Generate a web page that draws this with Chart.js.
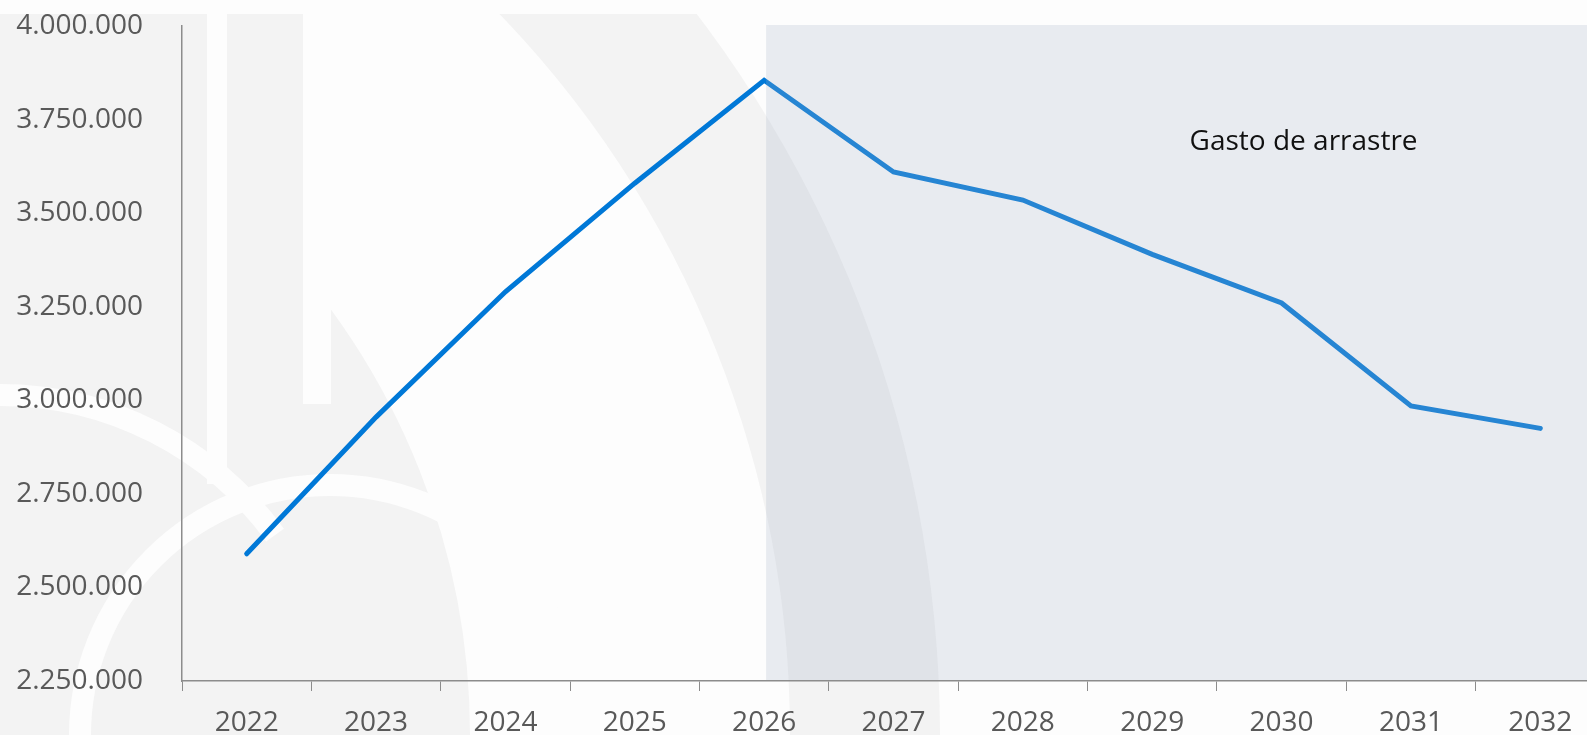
<!DOCTYPE html>
<html lang="es">
<head>
<meta charset="utf-8">
<title>Gasto de arrastre</title>
<script src="https://cdn.jsdelivr.net/npm/chart.js@4/dist/chart.umd.min.js"></script>
<style>
  html, body { margin: 0; padding: 0; overflow: hidden; background: #fdfdfd; }
  #wrap { position: relative; width: 1605px; height: 735px; }
</style>
</head>
<body>
<div id="wrap"><canvas id="gastoChart"></canvas></div>
<script>
const years = ['2022', '2023', '2024', '2025', '2026', '2027', '2028', '2029', '2030', '2031', '2032'];
const gasto = [2590000, 2955000, 3290000, 3580000, 3855000, 3610000, 3535000, 3390000, 3260000, 2985000, 2925000];
const yMin = 2250000;
const yMax = 4000000;
const yStep = 250000;
const shadeFrom = '2026';
const noteText = 'Gasto de arrastre';
const notePos = [8.17, 3690000];

const fmt = (v) => String(v).replace(/\B(?=(\d{3})+(?!\d))/g, '.');

// faint logo drawn behind everything
const watermark = {
    id: 'watermark',
    beforeDraw(chart) {
        const ctx = chart.ctx;
        const gray = '#f3f3f3';
        const white = '#fdfdfd';
        const h = chart.height;
        ctx.save();
        ctx.fillStyle = white;
        ctx.fillRect(0, 0, chart.width, h);
        // outer disc of the mark
        ctx.fillStyle = gray;
        ctx.beginPath();
        ctx.arc(-250, h, 1190, 1.5 * Math.PI, 2 * Math.PI);
        ctx.lineTo(-250, h);
        ctx.closePath();
        ctx.fill();
        // light band inside it
        ctx.strokeStyle = white;
        ctx.lineWidth = 320;
        ctx.beginPath();
        ctx.arc(-250, h, 880, 1.5 * Math.PI, 2 * Math.PI);
        ctx.stroke();
        // stem
        ctx.fillStyle = gray;
        ctx.fillRect(0, 14, 330, h);
        // thin rings
        ctx.lineWidth = 22;
        ctx.beginPath();
        ctx.arc(330, h, 250, Math.PI, 2 * Math.PI);
        ctx.stroke();
        ctx.beginPath();
        ctx.arc(0, h, 340, 1.5 * Math.PI, 1.8 * Math.PI);
        ctx.stroke();
        // vertical strokes and top margin
        ctx.fillStyle = white;
        ctx.fillRect(207, 14, 20, 470);
        ctx.fillRect(303, 14, 28, 390);
        ctx.fillRect(0, 0, chart.width, 14);
        ctx.restore();
    }
};

// translucent panel over the projected years, plus its caption
const projection = {
    id: 'projection',
    afterDatasetsDraw(chart) {
        const { ctx, chartArea, scales: { x, y } } = chart;
        const left = x.getPixelForValue(years.indexOf(shadeFrom)) + 2;
        ctx.save();
        ctx.fillStyle = 'rgba(163, 176, 197, 0.233)';
        ctx.fillRect(left, chartArea.top - 1, chart.width - left, chartArea.bottom - chartArea.top);
        ctx.fillStyle = '#111111';
        ctx.font = '28px "Open Sans"';
        ctx.textAlign = 'center';
        ctx.textBaseline = 'middle';
        ctx.fillText(noteText, x.getPixelForValue(notePos[0]), y.getPixelForValue(notePos[1]));
        ctx.restore();
    }
};

new Chart(document.getElementById('gastoChart'), {
    type: 'line',
    data: {
        labels: years,
        datasets: [{
            data: gasto,
            borderColor: '#0078d7',
            borderWidth: 5,
            borderCapStyle: 'round',
            pointRadius: 0,
            tension: 0,
        }],
    },
    options: {
        responsive: true,
        maintainAspectRatio: false,
        animation: false,
        events: [],
        layout: { padding: { top: 26, left: 0, right: 0, bottom: 0 } },
        plugins: { legend: { display: false }, tooltip: { enabled: false } },
        scales: {
            x: {
                offset: true,
                grid: { offset: true, drawOnChartArea: false, drawTicks: true, tickLength: 10, color: '#8c8c8c' },
                border: { display: true, color: '#8c8c8c', width: 1.5 },
                ticks: { color: '#595959', padding: 15, font: { family: 'Open Sans', size: 28 }, maxRotation: 0 },
                afterFit(scale) { scale.height = 54; },
            },
            y: {
                min: yMin,
                max: yMax,
                // hidden tick marks still reserve the gap between labels and axis
                grid: { display: false, drawTicks: true, tickLength: 39 },
                border: { display: true, color: '#8c8c8c', width: 1.5 },
                ticks: {
                    stepSize: yStep,
                    color: '#595959',
                    padding: 0,
                    font: { family: 'Open Sans', size: 28 },
                    callback: (v) => fmt(v),
                },
                afterFit(scale) { scale.width = 182; },
            },
        },
    },
    plugins: [watermark, projection],
});
</script>
</body>
</html>
